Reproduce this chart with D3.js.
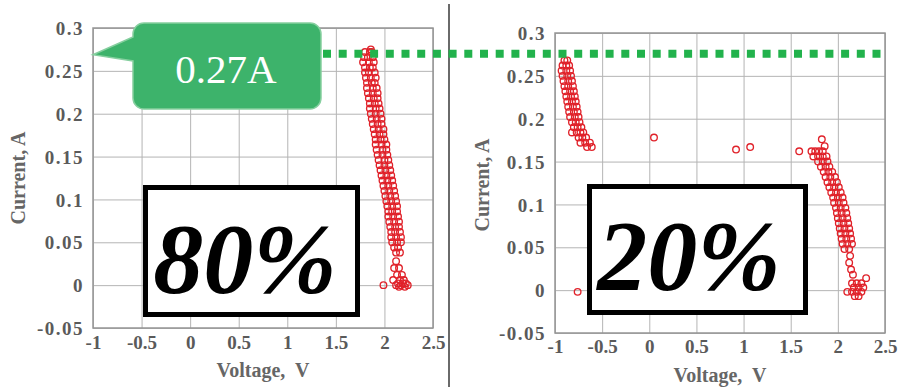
<!DOCTYPE html>
<html>
<head>
<meta charset="utf-8">
<script src="https://cdn.jsdelivr.net/npm/d3@7"></script>
<style>
  html, body { margin: 0; padding: 0; background: #fff; }
  svg { display: block; }
  svg text { font-family: "Liberation Serif", "Times New Roman", serif; }
</style>
</head>
<body>
<div id="chart"></div>
<script>
// tick values + labels (shared by both panels)
const xTicks = [-1, -0.5, 0, 0.5, 1, 1.5, 2, 2.5];
const xTickLabels = ["-1", "-0.5", "0", "0.5", "1", "1.5", "2", "2.5"];
const yTicks = [-0.05, 0, 0.05, 0.1, 0.15, 0.2, 0.25, 0.3];
const yTickLabels = ["-0.05", "0", "0.05", "0.1", "0.15", "0.2", "0.25", "0.3"];

const peakCurrent = 0.27;       // green reference line
const peakLabel = "0.27A";

// rows of samples: [current, voltage, voltage, ...]
const rows80 = [
  [0.275, 1.86], [0.272, 1.80, 1.85, 1.87], [0.266, 1.79, 1.83, 1.88], [0.260, 1.78, 1.84, 1.89],
  [0.254, 1.80, 1.85, 1.88], [0.248, 1.80, 1.84, 1.90], [0.242, 1.81, 1.86, 1.91], [0.236, 1.82, 1.87, 1.90],
  [0.230, 1.82, 1.88, 1.92], [0.224, 1.83, 1.88, 1.93], [0.218, 1.84, 1.89, 1.93], [0.212, 1.85, 1.90, 1.94],
  [0.206, 1.85, 1.91, 1.95], [0.200, 1.86, 1.91, 1.96], [0.194, 1.87, 1.92, 1.97], [0.188, 1.88, 1.93, 1.97],
  [0.182, 1.89, 1.94, 1.99], [0.176, 1.90, 1.95, 1.99], [0.170, 1.91, 1.96, 2.00], [0.164, 1.91, 1.97, 2.02],
  [0.158, 1.92, 1.98, 2.02], [0.152, 1.93, 1.98, 2.03], [0.146, 1.94, 2.00, 2.04], [0.140, 1.95, 2.00, 2.05],
  [0.134, 1.96, 2.01, 2.06], [0.128, 1.97, 2.02, 2.07], [0.122, 1.98, 2.03, 2.08], [0.116, 1.99, 2.04, 2.09],
  [0.110, 2.00, 2.05, 2.10], [0.104, 2.01, 2.06, 2.11], [0.098, 2.02, 2.07, 2.12], [0.092, 2.03, 2.08, 2.13],
  [0.086, 2.04, 2.08, 2.13], [0.080, 2.04, 2.09, 2.14], [0.074, 2.05, 2.10, 2.15], [0.068, 2.06, 2.11, 2.15],
  [0.062, 2.07, 2.11, 2.16], [0.056, 2.07, 2.12, 2.17], [0.050, 2.08, 2.13, 2.17], [0.044, 2.10, 2.14],
  [0.038, 2.12, 2.16], [0.028, 2.12], [0.020, 2.10, 2.15], [0.012, 2.13, 2.18], [0.006, 2.09, 2.16, 2.20],
  [0.002, 2.14, 2.19, 2.22], [0.000, 1.99, 2.12, 2.17, 2.24], [-0.002, 2.15, 2.21]
];

// rows of samples: [current, voltage, voltage, ...]
const rows20 = [
  [0.268, -0.90, -0.87], [0.262, -0.92, -0.88, -0.85], [0.256, -0.93, -0.88, -0.84], [0.250, -0.92, -0.87, -0.83],
  [0.244, -0.91, -0.86, -0.82], [0.238, -0.90, -0.86, -0.81], [0.232, -0.89, -0.84, -0.80], [0.226, -0.88, -0.83, -0.79],
  [0.220, -0.87, -0.82, -0.78], [0.214, -0.86, -0.81, -0.77], [0.208, -0.85, -0.80, -0.76], [0.202, -0.84, -0.79, -0.75],
  [0.196, -0.82, -0.78, -0.74], [0.190, -0.80, -0.76, -0.72], [0.184, -0.82, -0.77, -0.73, -0.70],
  [0.178, -0.75, -0.71, -0.67, 0.05], [0.172, -0.73, -0.68, -0.63], [0.167, -0.66, -0.61, 1.07], [0.164, 0.92],
  [0.176, 1.83], [0.168, 1.86], [0.162, 1.59, 1.72, 1.76, 1.80, 1.84], [0.156, 1.74, 1.79, 1.84, 1.88],
  [0.150, 1.79, 1.84, 1.89], [0.144, 1.82, 1.87, 1.91], [0.138, 1.85, 1.90, 1.94], [0.132, 1.87, 1.92, 1.97],
  [0.126, 1.89, 1.94, 1.99], [0.120, 1.91, 1.96, 2.01], [0.114, 1.93, 1.98, 2.03], [0.108, 1.95, 2.00, 2.05],
  [0.102, 1.96, 2.01, 2.06], [0.096, 1.98, 2.03, 2.08], [0.090, 1.99, 2.04, 2.09], [0.084, 2.00, 2.05, 2.10],
  [0.078, 2.01, 2.06, 2.11], [0.072, 2.02, 2.07, 2.12], [0.066, 2.03, 2.08, 2.13], [0.060, 2.04, 2.09, 2.14],
  [0.054, 2.05, 2.10, 2.15], [0.048, 2.07, 2.12], [0.040, 2.13], [0.032, 2.12], [0.024, 2.14], [0.018, 2.16],
  [0.014, 2.30], [0.008, 2.15, 2.20, 2.25], [0.003, 2.17, 2.22, 2.27], [-0.002, -0.76, 2.10, 2.15, 2.20, 2.25],
  [-0.007, 2.18, 2.22]
];

// flatten rows into [voltage, current] points
const toPoints = rows => rows.flatMap(([c, ...vs]) => vs.map(v => [v, c]));

const W = 901, H = 387;
const svg = d3.select('#chart').append('svg').attr('width', W).attr('height', H);
svg.append('rect').attr('width', W).attr('height', H).attr('fill', '#fff');

const panels = [
  { data: toPoints(rows80), label: '80%', plot: [93, 433, 28, 328], box: [145.5, 187.5, 212, 127], textX: 245, textY: 292,
    yTitle: [18, 178], xTitleY: 377, tickY: 349 },
  { data: toPoints(rows20), label: '20%', plot: [555, 885, 33, 333], box: [589.5, 186.5, 216, 126], textX: 689, textY: 289,
    yTitle: [482, 185], xTitleY: 382, tickY: 353 }
];

const SERIF = '"Liberation Serif", "Times New Roman", serif';

function drawPanel(p) {
  const [x0, x1, y0, y1] = p.plot;
  const x = d3.scaleLinear().domain([-1, 2.5]).range([x0, x1]);
  const y = d3.scaleLinear().domain([-0.05, 0.3]).range([y1, y0]);
  const g = svg.append('g');

  // grid via axes
  g.append('g')
    .attr('transform', `translate(0,${y1})`)
    .call(d3.axisBottom(x).tickValues(xTicks).tickSize(-(y1 - y0)).tickFormat(''))
    .call(s => s.select('.domain').remove())
    .call(s => s.selectAll('line').attr('stroke', '#b4b4b4'));
  g.append('g')
    .attr('transform', `translate(${x0},0)`)
    .call(d3.axisLeft(y).tickValues(yTicks).tickSize(-(x1 - x0)).tickFormat(''))
    .call(s => s.select('.domain').remove())
    .call(s => s.selectAll('line').attr('stroke', '#b4b4b4'));

  g.append('rect')
    .attr('x', x0).attr('y', y0).attr('width', x1 - x0).attr('height', y1 - y0)
    .attr('fill', 'none').attr('stroke', '#959595').attr('stroke-width', 1.5);

  // tick labels
  const xa = g.append('g')
    .attr('transform', `translate(0,${y1})`)
    .call(d3.axisBottom(x).tickValues(xTicks).tickSize(0).tickFormat((d, i) => xTickLabels[i]));
  xa.attr('font-family', null);
  xa.select('.domain').remove();
  xa.selectAll('text')
    .attr('y', p.tickY - y1).attr('dy', 0)
    .style('font-family', SERIF).attr('font-size', 19).attr('font-weight', 'bold')
    .attr('fill', '#5a5a5a');

  const ya = g.append('g')
    .attr('transform', `translate(${x0},0)`)
    .call(d3.axisLeft(y).tickValues(yTicks).tickSize(0).tickPadding(9).tickFormat((d, i) => yTickLabels[i]));
  ya.attr('font-family', null);
  ya.select('.domain').remove();
  ya.selectAll('text')
    .attr('dy', '0.35em')
    .style('font-family', SERIF).attr('font-size', 19).attr('font-weight', 'bold')
    .attr('letter-spacing', 1.5)
    .attr('fill', '#5a5a5a');

  // axis titles
  g.append('text')
    .attr('x', (x0 + x1) / 2).attr('y', p.xTitleY)
    .attr('text-anchor', 'middle').attr('font-size', 20).attr('font-weight', 'bold').attr('fill', '#666')
    .style('white-space', 'pre')
    .text('Voltage,  V');
  g.append('text')
    .attr('transform', `translate(${p.yTitle[0]},${p.yTitle[1]}) rotate(-90)`)
    .attr('text-anchor', 'middle').attr('dy', '0.35em')
    .attr('font-size', 20).attr('font-weight', 'bold').attr('fill', '#666')
    .text('Current, A');

  // samples
  g.append('g').selectAll('circle')
    .data(p.data)
    .join('circle')
    .attr('cx', d => x(d[0]))
    .attr('cy', d => y(d[1]))
    .attr('r', 3.3)
    .attr('fill', 'none')
    .attr('stroke', '#e0222a')
    .attr('stroke-width', 1.35);

  // big state-of-charge label
  const [bx, by, bw, bh] = p.box;
  g.append('rect')
    .attr('x', bx).attr('y', by).attr('width', bw).attr('height', bh)
    .attr('fill', '#fff').attr('stroke', '#000').attr('stroke-width', 5);
  g.append('text')
    .attr('x', p.textX).attr('y', p.textY)
    .attr('text-anchor', 'middle')
    .attr('font-size', 100).attr('font-weight', 'bold').attr('font-style', 'italic')
    .attr('fill', '#000')
    .text(p.label);

  return { x, y };
}

const left = drawPanel(panels[0]);
const right = drawPanel(panels[1]);

// panel divider
svg.append('line')
  .attr('x1', 449).attr('x2', 449).attr('y1', 4).attr('y2', H)
  .attr('stroke', '#6a6a6a').attr('stroke-width', 2);

// dashed peak line spanning both panels
const peakY = left.y(peakCurrent);
svg.append('line')
  .attr('x1', 323).attr('x2', right.x(2.5))
  .attr('y1', peakY).attr('y2', peakY)
  .attr('stroke', '#22b24c').attr('stroke-width', 8)
  .attr('stroke-dasharray', '8,7.7');

// callout bubble
const cb = { x: 133, y: 23, w: 188, h: 86, r: 11 };
const tipX = left.x(-1);
const bubble = d3.path();
bubble.moveTo(cb.x + cb.r, cb.y);
bubble.lineTo(cb.x + cb.w - cb.r, cb.y);
bubble.arcTo(cb.x + cb.w, cb.y, cb.x + cb.w, cb.y + cb.r, cb.r);
bubble.lineTo(cb.x + cb.w, cb.y + cb.h - cb.r);
bubble.arcTo(cb.x + cb.w, cb.y + cb.h, cb.x + cb.w - cb.r, cb.y + cb.h, cb.r);
bubble.lineTo(cb.x + cb.r, cb.y + cb.h);
bubble.arcTo(cb.x, cb.y + cb.h, cb.x, cb.y + cb.h - cb.r, cb.r);
bubble.lineTo(cb.x, 61);
bubble.lineTo(tipX, peakY + 1);
bubble.lineTo(cb.x, 37);
bubble.lineTo(cb.x, cb.y + cb.r);
bubble.arcTo(cb.x, cb.y, cb.x + cb.r, cb.y, cb.r);
bubble.closePath();
svg.append('path')
  .attr('d', bubble.toString())
  .attr('fill', '#3db36b').attr('stroke', '#86cf9f').attr('stroke-width', 1.5);
svg.append('text')
  .attr('x', 226).attr('y', 83)
  .attr('text-anchor', 'middle')
  .attr('font-size', 41).attr('fill', '#fff')
  .text(peakLabel);
</script>
</body>
</html>
